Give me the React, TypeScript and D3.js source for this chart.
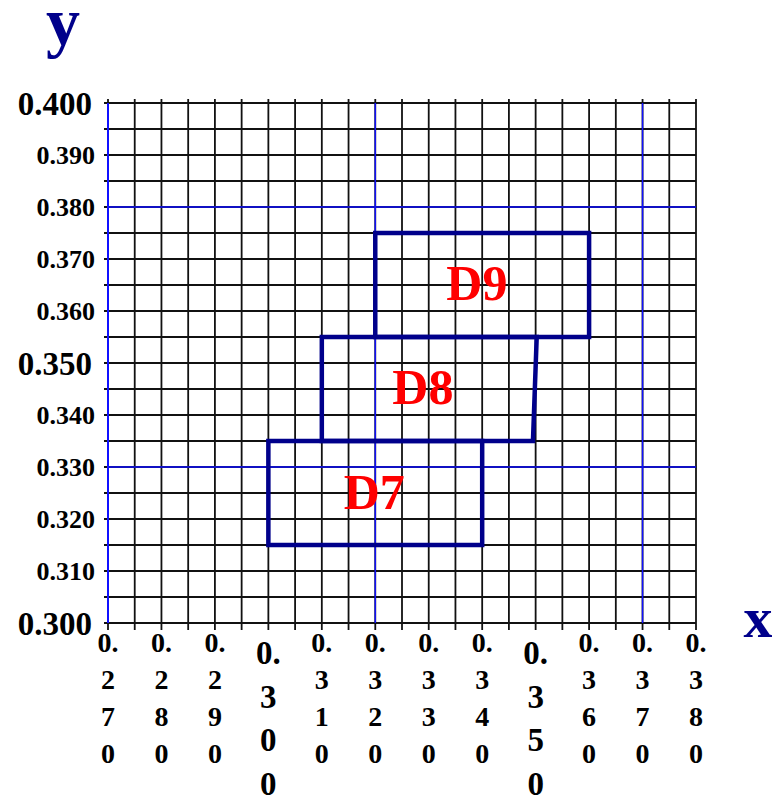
import React from "react";
import * as d3 from "d3";

// grid every 0.005, labels every 0.010
const xLabels = ["0.270", "0.280", "0.290", "0.300", "0.310", "0.320", "0.330", "0.340", "0.350", "0.360", "0.370", "0.380"];
const yLabels = ["0.400", "0.390", "0.380", "0.370", "0.360", "0.350", "0.340", "0.330", "0.320", "0.310", "0.300"];
const bigXLabels = ["0.300", "0.350"];
const bigYLabels = ["0.400", "0.350", "0.300"];
const blueX = [0.32, 0.37];
const blueY = [0.38, 0.33];

// boxes (corners: x0 left, x1 right-top, x1b right-bottom)
const boxNames = ["D7", "D8", "D9"];
const boxX0 = [0.3, 0.31, 0.32];
const boxX1 = [0.34, 0.3502, 0.36];
const boxX1b = [0.34, 0.3495, 0.36];
const boxY0 = [0.315, 0.335, 0.355];
const boxY1 = [0.335, 0.355, 0.375];
const labelX = [0.3198, 0.3289, 0.339];
const labelY = [0.3252, 0.3454, 0.3654];

const FONT = "'Liberation Serif', 'Times New Roman', serif";

const App = () => {
  const x = d3.scaleLinear().domain([0.27, 0.38]).range([108, 696]);
  const y = d3.scaleLinear().domain([0.3, 0.4]).range([623, 103]);

  const xGrid = d3.range(0, 23).map((i) => 0.27 + i * 0.005);
  const yGrid = d3.range(0, 21).map((i) => 0.3 + i * 0.005);

  return (
    <svg width={772} height={798} style={{ position: "absolute", left: 0, top: 0, background: "#fff" }}>
      {/* grid */}
      {xGrid.map((v, i) => (
        <line key={"gx" + i} x1={x(v)} x2={x(v)} y1={99} y2={630} stroke="#111" strokeWidth={1.8} />
      ))}
      {yGrid.map((v, i) => (
        <line key={"gy" + i} x1={104} x2={x(0.38)} y1={y(v)} y2={y(v)} stroke="#111" strokeWidth={1.8} />
      ))}
      {/* blue guide lines */}
      <line x1={x(0.27)} x2={x(0.27)} y1={y(0.4)} y2={y(0.3)} stroke="#1010ff" strokeWidth={2} />
      {blueX.map((v) => (
        <line key={"bx" + v} x1={x(v)} x2={x(v)} y1={y(0.4)} y2={y(0.3)} stroke="#1010ff" strokeWidth={1.4} />
      ))}
      {blueY.map((v) => (
        <line key={"by" + v} x1={x(0.27)} x2={x(0.38)} y1={y(v)} y2={y(v)} stroke="#1010ff" strokeWidth={1.4} />
      ))}
      {/* boxes */}
      {boxNames.map((n, i) => {
        const pts = [
          [x(boxX0[i]), y(boxY1[i])],
          [x(boxX1[i]), y(boxY1[i])],
          [x(boxX1b[i]), y(boxY0[i])],
          [x(boxX0[i]), y(boxY0[i])],
        ];
        return (
          <polygon
            key={n}
            points={pts.map((p) => p.join(",")).join(" ")}
            fill="none"
            stroke="#00008b"
            strokeWidth={4.5}
          />
        );
      })}
      {boxNames.map((n, i) => (
        <text
          key={"t" + n}
          x={x(labelX[i])}
          y={y(labelY[i])}
          dy="0.35em"
          textAnchor="middle"
          fontFamily={FONT}
          fontWeight="bold"
          fontSize={50}
          fill="#ff0000"
        >
          {n}
        </text>
      ))}
      {/* y tick labels */}
      {yLabels.map((s) => {
        const big = bigYLabels.includes(s);
        return (
          <text
            key={"yl" + s}
            x={big ? 92 : 95}
            y={y(+s)}
            dy="0.35em"
            textAnchor="end"
            fontFamily={FONT}
            fontWeight="bold"
            fontSize={big ? 33 : 26}
            fill="#000"
          >
            {s}
          </text>
        );
      })}
      {/* x tick labels, one character per line */}
      {xLabels.map((s) => {
        const big = bigXLabels.includes(s);
        const parts = ["0.", ...s.slice(2).split("")];
        const base = big ? 664 : 652;
        const step = big ? 43.5 : 37;
        return (
          <text
            key={"xl" + s}
            textAnchor="middle"
            fontFamily={FONT}
            fontWeight="bold"
            fontSize={big ? 33 : 28}
            fill="#000"
          >
            {parts.map((p, j) => (
              <tspan key={j} x={x(+s)} y={base + j * step}>
                {p}
              </tspan>
            ))}
          </text>
        );
      })}
      {/* axis titles */}
      <text x={63} y={45} textAnchor="middle" fontFamily={FONT} fontWeight="bold" fontSize={68} fill="#00008b">
        y
      </text>
      <text x={758} y={637} textAnchor="middle" fontFamily={FONT} fontWeight="bold" fontSize={58} fill="#00008b">
        x
      </text>
    </svg>
  );
};

export default App;
